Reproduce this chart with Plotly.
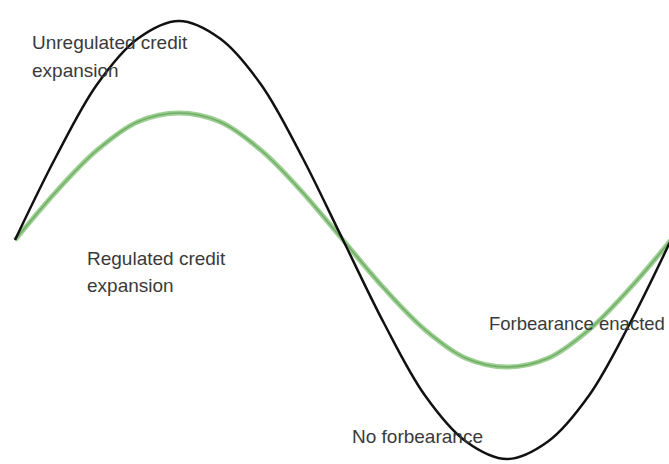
import plotly.graph_objects as go

# Phase positions (half-cycles) and read-off curve heights
x_pos = [0, 0.125, 0.25, 0.375, 0.5, 0.625, 0.75, 0.875, 1.0,
         1.125, 1.25, 1.375, 1.5, 1.625, 1.75, 1.875, 2.0]
unregulated = [0, 0.38, 0.71, 0.92, 1.0, 0.92, 0.71, 0.38, 0,
               -0.38, -0.71, -0.92, -1.0, -0.92, -0.71, -0.38, 0]
regulated = [0, 0.22, 0.41, 0.54, 0.58, 0.54, 0.41, 0.22, 0,
             -0.22, -0.41, -0.54, -0.58, -0.54, -0.41, -0.22, 0]

labels = [
    ("Unregulated credit", 30, 43, 19),
    ("expansion", 30, 70, 19),
    ("Regulated credit", 85, 258, 19),
    ("expansion", 85, 285, 19),
    ("Forbearance enacted", 487, 323, 18.5),
    ("No forbearance", 350, 436, 19),
]

W, H = 669, 464
fig = go.Figure()
fig.add_trace(go.Scatter(x=x_pos, y=regulated, mode="lines",
                         line=dict(color="rgb(155,208,145)", width=5, shape="spline"),
                         hoverinfo="skip"))
fig.add_trace(go.Scatter(x=x_pos, y=regulated, mode="lines",
                         line=dict(color="rgb(115,172,105)", width=1.5, shape="spline"),
                         hoverinfo="skip"))
fig.add_trace(go.Scatter(x=x_pos, y=unregulated, mode="lines",
                         line=dict(color="#111111", width=2.5, shape="spline"),
                         hoverinfo="skip"))

for text, px, py, fs in labels:
    fig.add_annotation(text=text, xref="paper", yref="paper",
                       x=px / W, y=1 - py / H, xanchor="left", yanchor="middle",
                       showarrow=False,
                       font=dict(family="Liberation Sans, Arial", size=fs, color="#3a3a3a"))

fig.update_layout(
    width=W, height=H,
    margin=dict(l=0, r=0, t=0, b=0),
    paper_bgcolor="white", plot_bgcolor="white",
    showlegend=False,
    xaxis=dict(range=[-15 / 328, (669 - 15) / 328], visible=False),
    yaxis=dict(range=[-(464 - 240) / 219, 240 / 219], visible=False),
)
fig.write_html("out.html", config={"displayModeBar": False},
               post_script="document.body.style.margin='0';")
